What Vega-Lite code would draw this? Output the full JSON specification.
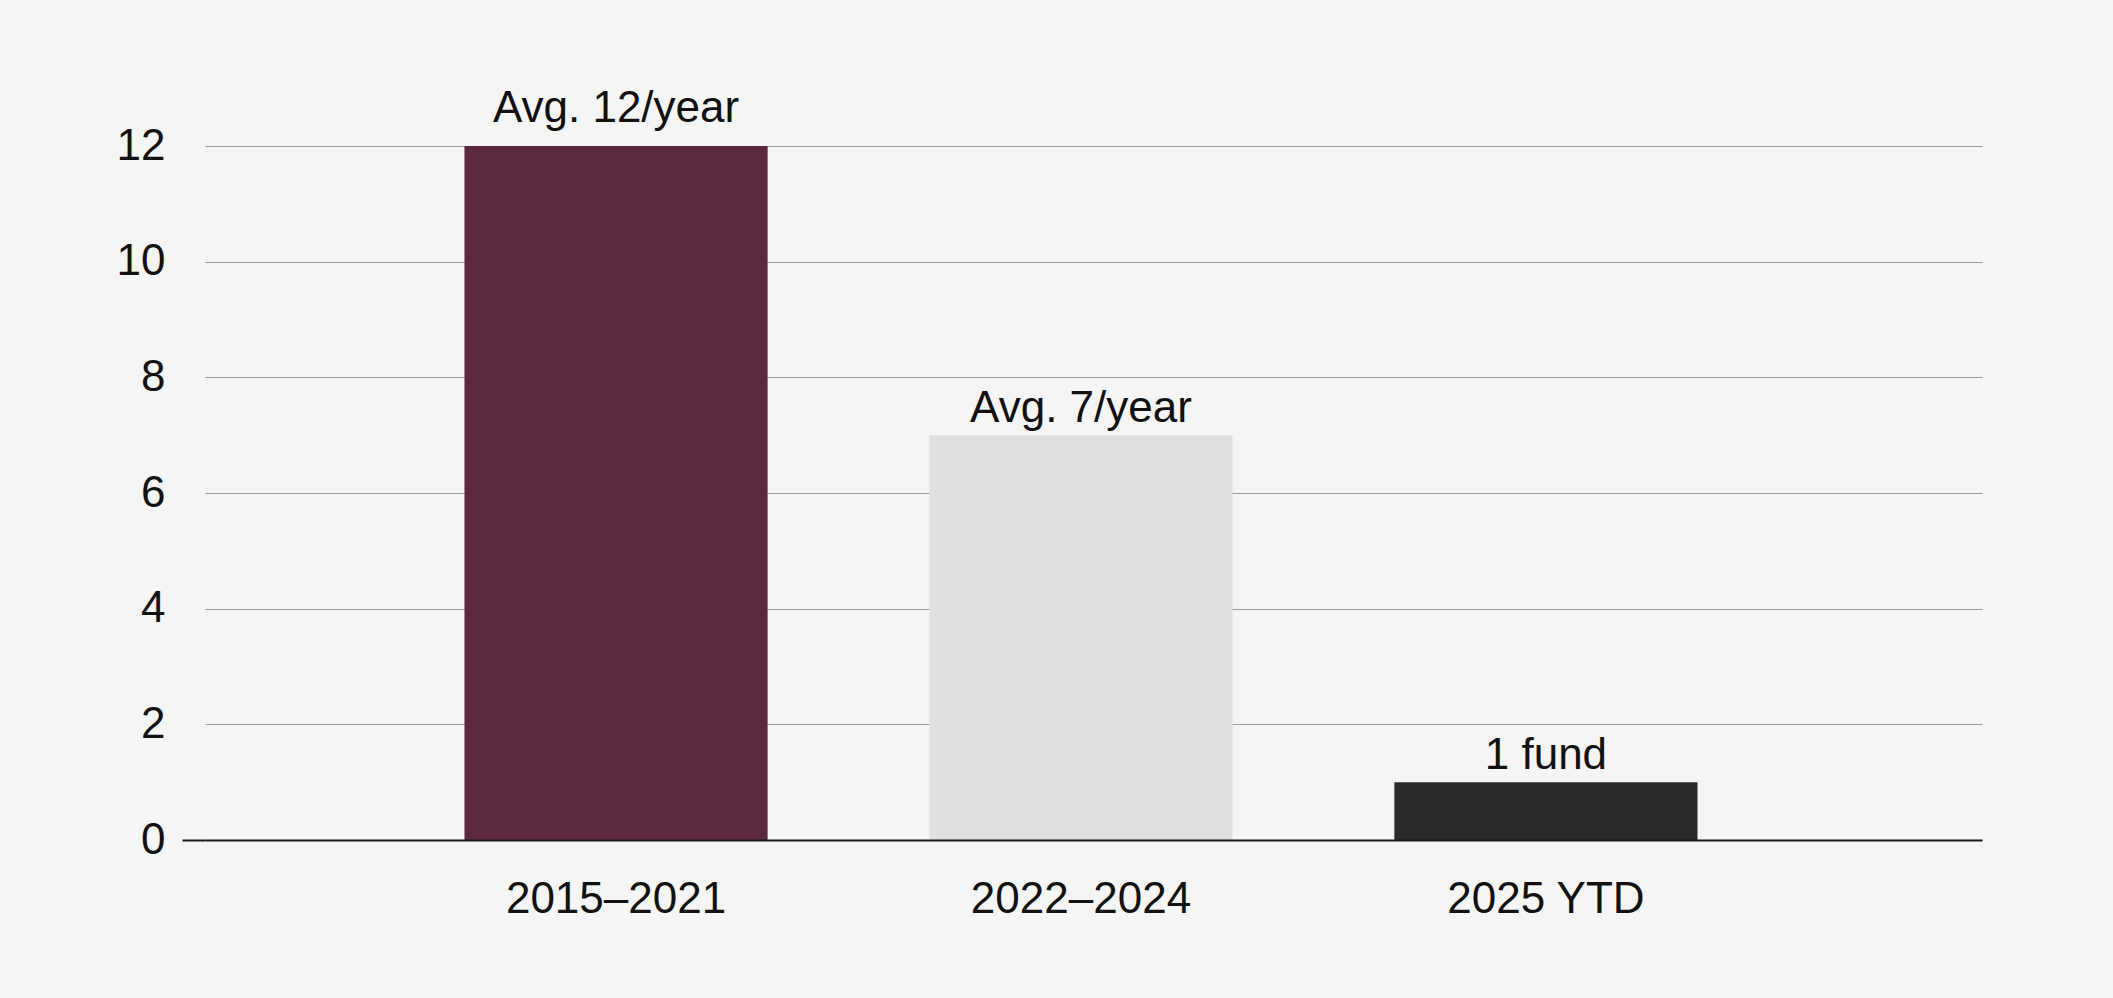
{
  "$schema": "https://vega.github.io/schema/vega-lite/v6.json",
  "description": "Funds per year by period, with average labels",
  "autosize": {"type": "none"},
  "padding": {"left": 205, "top": 146, "right": 131, "bottom": 158},
  "width": 1777,
  "height": 694,
  "background": "#F5F5F5",
  "data": {
    "values": [
      {"period": "2015–2021", "funds": 12, "label": "Avg. 12/year"},
      {"period": "2022–2024", "funds": 7, "label": "Avg. 7/year"},
      {"period": "2025 YTD", "funds": 1, "label": "1 fund"}
    ]
  },
  "encoding": {
    "x": {
      "field": "period",
      "type": "nominal",
      "sort": null,
      "scale": {"paddingInner": 0.348, "paddingOuter": 0.585, "align": 0.477},
      "axis": {
        "title": null,
        "labelAngle": 0,
        "labelLimit": 0,
        "ticks": false,
        "domainColor": "#1a1a1a",
        "domainWidth": 2,
        "labelPadding": 37,
        "zindex": 1
      }
    },
    "y": {
      "field": "funds",
      "type": "quantitative",
      "scale": {"domain": [0, 12], "nice": false},
      "axis": {
        "title": null,
        "values": [0, 2, 4, 6, 8, 10, 12],
        "domain": false,
        "grid": true,
        "gridColor": "#9b9b9b",
        "gridWidth": 1,
        "tickSize": 23,
        "tickWidth": 2,
        "tickColor": {"condition": {"test": "datum.value === 0", "value": "#1a1a1a"}, "value": "transparent"},
        "labelPadding": 17
      }
    }
  },
  "layer": [
    {
      "mark": {"type": "bar"},
      "encoding": {
        "color": {
          "field": "period",
          "type": "nominal",
          "scale": {
            "domain": ["2015–2021", "2022–2024", "2025 YTD"],
            "range": ["#5C2A40", "#E0E0E0", "#2A2A2A"]
          },
          "legend": null
        }
      }
    },
    {
      "transform": [{"filter": "datum.funds >= 12"}],
      "mark": {"type": "text", "baseline": "alphabetic", "dy": -24, "fontSize": 44, "font": "Liberation Sans", "color": "#111111"},
      "encoding": {"text": {"field": "label"}}
    },
    {
      "transform": [{"filter": "datum.funds < 12"}],
      "mark": {"type": "text", "baseline": "alphabetic", "dy": -13, "fontSize": 44, "font": "Liberation Sans", "color": "#111111"},
      "encoding": {"text": {"field": "label"}}
    }
  ],
  "config": {
    "view": {"stroke": null},
    "axis": {
      "labelFont": "Liberation Sans",
      "labelFontSize": 44,
      "labelColor": "#111111"
    }
  }
}
